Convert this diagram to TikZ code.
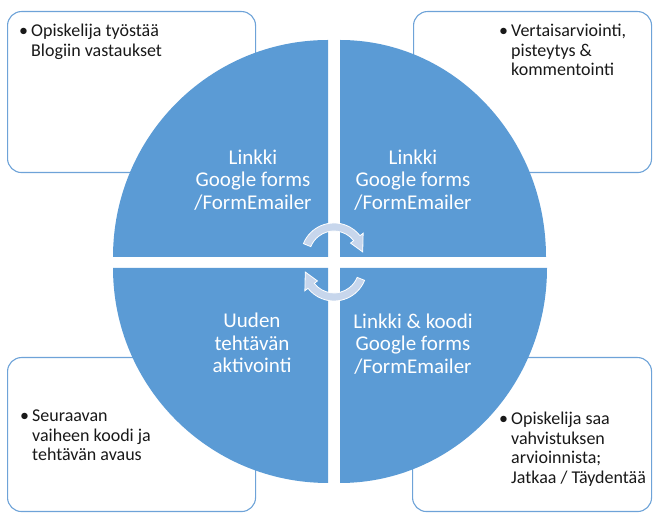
\documentclass[tikz,border=0pt]{standalone}
\usepackage{fontspec}
\setmainfont{Carlito}
\usetikzlibrary{positioning}
\definecolor{quadblue}{RGB}{91,155,213}
\definecolor{arrowblue}{RGB}{199,214,236}
\definecolor{boxline}{RGB}{110,163,216}
\definecolor{notetext}{RGB}{25,25,25}
\tikzstyle{notebox} = [rectangle, rounded corners=14pt, draw=boxline, line width=1.1pt, fill=white, anchor=north west, inner sep=0pt]
\tikzstyle{note} = [anchor=base west, inner sep=0pt, text=notetext, font=\fontsize{18}{19.5}\selectfont]
\tikzstyle{quadtext} = [align=center, text=white, inner sep=0pt, font=\fontsize{21}{22.5}\selectfont]
\tikzstyle{quad} = [fill=quadblue]
\tikzstyle{cyclearrow} = [fill=arrowblue, draw=white, line width=0.8pt]
\newcommand{\bulletitem}[1]{\begin{tabular}[t]{@{}p{12pt}@{}l@{}}\textbullet & \begin{tabular}[t]{@{}l@{}}#1\end{tabular}\end{tabular}}

\begin{document}
\begin{tikzpicture}[x=1pt, y=1pt]
		\useasboundingbox (0,0) rectangle (653,513);
		% corner boxes
		\node (tlbox) [notebox, minimum width=248pt, minimum height=161pt] at (7,502) {};
		\node (trbox) [notebox, minimum width=238pt, minimum height=161pt] at (413,502) {};
		\node (blbox) [notebox, minimum width=248pt, minimum height=154pt] at (7,156) {};
		\node (brbox) [notebox, minimum width=239pt, minimum height=154pt] at (412,156) {};
		% quadrants
		\fill [quad] (328,256) -- ++(-215,0) arc[start angle=180, end angle=90, x radius=215pt, y radius=217pt] -- cycle;
		\fill [quad] (340,256) -- ++(0,217) arc[start angle=90, end angle=0, x radius=206pt, y radius=217pt] -- cycle;
		\fill [quad] (328,245) -- ++(-215,0) arc[start angle=180, end angle=270, x radius=215pt, y radius=215pt] -- cycle;
		\fill [quad] (340,245) -- ++(207,0) arc[start angle=0, end angle=-90, x radius=207pt, y radius=215pt] -- cycle;
		% cycle arrows
		\begin{scope}[shift={(334,257)}]
			\filldraw [cyclearrow] (158:33pt) arc[start angle=158, end angle=38, radius=33pt] -- (38:37pt) -- (8:29pt) -- (38:21pt) -- (38:25pt) arc[start angle=38, end angle=158, radius=25pt] -- cycle;
		\end{scope}
		\begin{scope}[shift={(334,245)}]
			\filldraw [cyclearrow] (-22:33pt) arc[start angle=-22, end angle=-142, radius=33pt] -- (-142:37pt) -- (-172:29pt) -- (-142:21pt) -- (-142:25pt) arc[start angle=-142, end angle=-22, radius=25pt] -- cycle;
		\end{scope}
		% quadrant labels
		\node (tltext) [quadtext] at (253,333) {Linkki\\Google forms\\/FormEmailer};
		\node (trtext) [quadtext] at (413,333) {Linkki\\Google forms\\/FormEmailer};
		\node (bltext) [quadtext] at (252,170) {Uuden\\tehtävän\\aktivointi};
		\node (brtext) [quadtext] at (413,169) {Linkki \& koodi\\Google forms\\/FormEmailer};
		% box notes
		\node (tlnote) [note] at (19,476) {\bulletitem{Opiskelija työstää\\Blogiin vastaukset}};
		\node (trnote) [note] at (499,476) {\bulletitem{Vertaisarviointi,\\pisteytys \&\\kommentointi}};
		\node (blnote) [note] at (20,91) {\bulletitem{Seuraavan\\vaiheen koodi ja\\tehtävän avaus}};
		\node (brnote) [note] at (499,88) {\bulletitem{Opiskelija saa\\vahvistuksen\\arvioinnista;\\Jatkaa / Täydentää}};
	\end{tikzpicture}
\end{document}
